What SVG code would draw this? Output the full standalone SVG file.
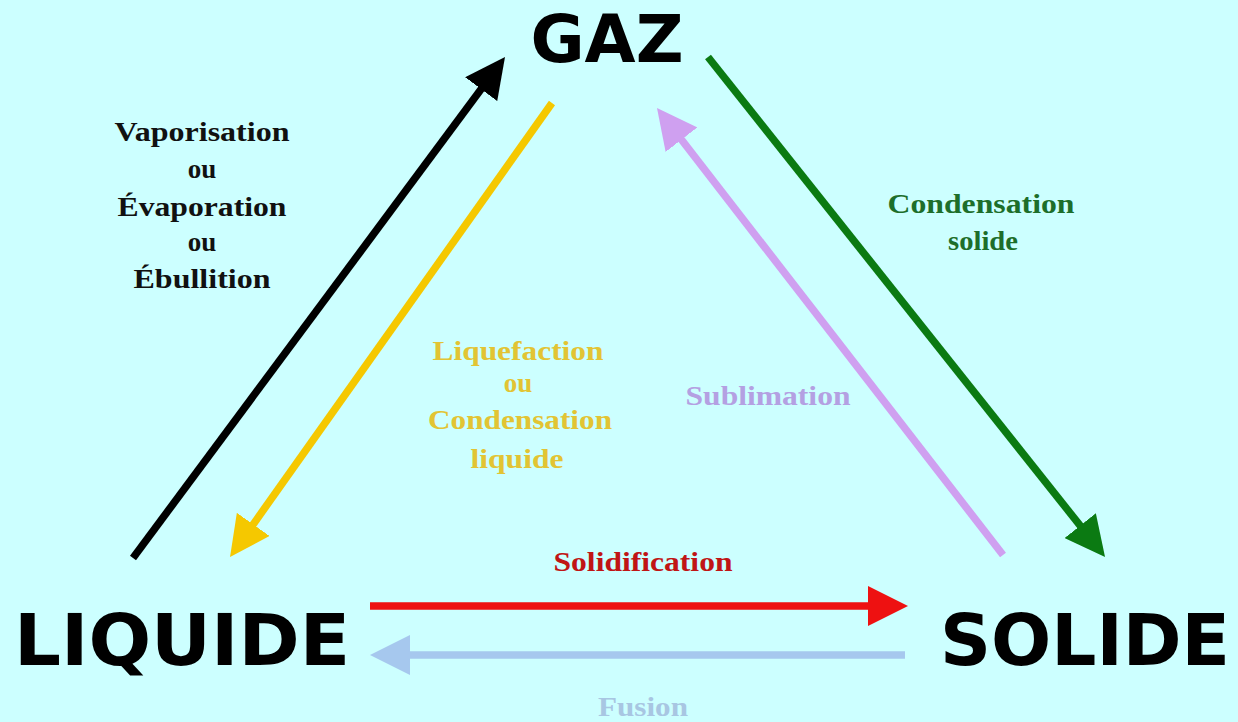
<svg xmlns="http://www.w3.org/2000/svg" width="1238" height="722" viewBox="0 0 1238 722">
<defs>
<style>
.state{font-family:"DejaVu Sans",Verdana,sans-serif;font-weight:bold;fill:#000}
.lbl{font-family:"Liberation Serif","Times New Roman",serif;font-weight:bold;font-size:27px;text-anchor:middle}
.ln{fill:none;stroke-width:7.5;stroke-linecap:butt}
</style>
<marker id="hBlack" markerUnits="userSpaceOnUse" markerWidth="40" markerHeight="40" refX="15" refY="20" orient="auto"><path d="M0,0 L40,20 L0,40 z" fill="#000"/></marker>
<marker id="hYellow" markerUnits="userSpaceOnUse" markerWidth="40" markerHeight="40" refX="15" refY="20" orient="auto"><path d="M0,0 L40,20 L0,40 z" fill="#f5c800"/></marker>
<marker id="hLav" markerUnits="userSpaceOnUse" markerWidth="40" markerHeight="40" refX="15" refY="20" orient="auto"><path d="M0,0 L40,20 L0,40 z" fill="#cfa0f0"/></marker>
<marker id="hGreen" markerUnits="userSpaceOnUse" markerWidth="40" markerHeight="40" refX="15" refY="20" orient="auto"><path d="M0,0 L40,20 L0,40 z" fill="#0b7a12"/></marker>
<marker id="hRed" markerUnits="userSpaceOnUse" markerWidth="40" markerHeight="40" refX="15" refY="20" orient="auto"><path d="M0,0 L40,20 L0,40 z" fill="#ee1111"/></marker>
<marker id="hBlue" markerUnits="userSpaceOnUse" markerWidth="40" markerHeight="40" refX="15" refY="20" orient="auto"><path d="M0,0 L40,20 L0,40 z" fill="#a6c8ee"/></marker>
</defs>
<rect width="1238" height="722" fill="#CCFFFF"/>
<g id="gaz"><text class="state" x="607" y="62" font-size="66" text-anchor="middle">GAZ</text></g>
<g id="liquide"><text class="state" x="14" y="665" font-size="72" textLength="336" lengthAdjust="spacingAndGlyphs">LIQUIDE</text></g>
<g id="solide"><text class="state" x="940" y="665" font-size="72" textLength="290" lengthAdjust="spacingAndGlyphs">SOLIDE</text></g>
<g id="connectors">
<line class="ln" x1="133" y1="558" x2="490.1" y2="77.1" stroke="#000" marker-end="url(#hBlack)"/>
<line class="ln" x1="552" y1="103" x2="244.5" y2="536.6" stroke="#f5c800" stroke-width="6.5" marker-end="url(#hYellow)"/>
<line class="ln" x1="1003" y1="555" x2="672.3" y2="127.8" stroke="#cfa0f0" marker-end="url(#hLav)"/>
<line class="ln" x1="708" y1="57" x2="1089.5" y2="537.4" stroke="#0b7a12" marker-end="url(#hGreen)"/>
<line class="ln" x1="370" y1="606" x2="883" y2="606" stroke="#ee1111" marker-end="url(#hRed)"/>
<line class="ln" x1="905" y1="655" x2="395" y2="655" stroke="#a6c8ee" marker-end="url(#hBlue)"/>
</g>
<g id="label-vaporisation" fill="#111">
<text class="lbl" x="202" y="141" textLength="175" lengthAdjust="spacingAndGlyphs">Vaporisation</text>
<text class="lbl" x="202" y="178">ou</text>
<text class="lbl" x="202" y="216" textLength="169" lengthAdjust="spacingAndGlyphs">Évaporation</text>
<text class="lbl" x="202" y="251">ou</text>
<text class="lbl" x="202" y="288" textLength="137" lengthAdjust="spacingAndGlyphs">Ébullition</text>
</g>
<g id="label-condensation-solide" fill="#1d6e2a">
<text class="lbl" x="981" y="213" textLength="187" lengthAdjust="spacingAndGlyphs">Condensation</text>
<text class="lbl" x="983" y="250" textLength="70" lengthAdjust="spacingAndGlyphs">solide</text>
</g>
<g id="label-liquefaction" fill="#e2c433">
<text class="lbl" x="518" y="360" textLength="171" lengthAdjust="spacingAndGlyphs">Liquefaction</text>
<text class="lbl" x="518" y="392">ou</text>
<text class="lbl" x="520" y="429" textLength="184" lengthAdjust="spacingAndGlyphs">Condensation</text>
<text class="lbl" x="517" y="468" textLength="93" lengthAdjust="spacingAndGlyphs">liquide</text>
</g>
<g id="label-sublimation" fill="#b4a0e2">
<text class="lbl" x="768" y="405" textLength="165" lengthAdjust="spacingAndGlyphs">Sublimation</text>
</g>
<g id="label-solidification" fill="#c01515">
<text class="lbl" x="643" y="571" textLength="179" lengthAdjust="spacingAndGlyphs">Solidification</text>
</g>
<g id="label-fusion" fill="#a8c6e2">
<text class="lbl" x="643" y="716" textLength="90" lengthAdjust="spacingAndGlyphs">Fusion</text>
</g>
</svg>
